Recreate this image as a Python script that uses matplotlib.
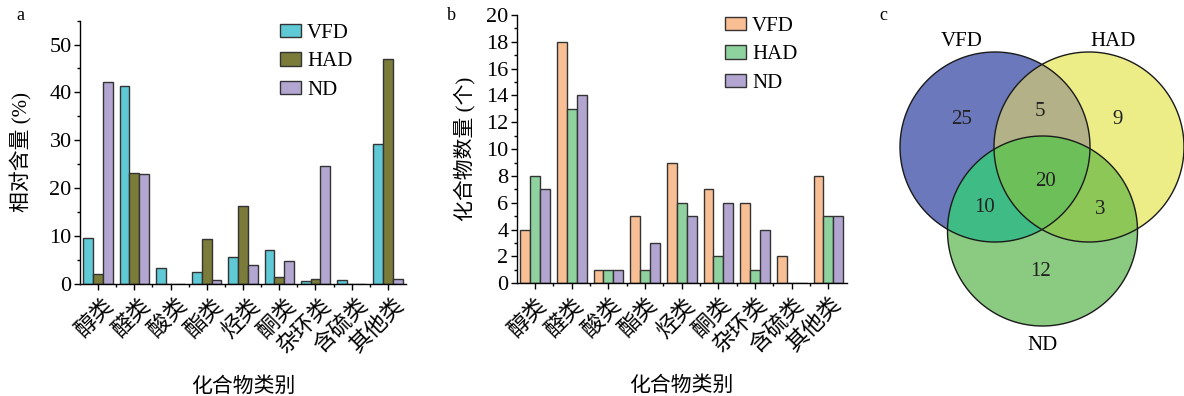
import numpy as np
import matplotlib
matplotlib.use("Agg")
import matplotlib.pyplot as plt
import matplotlib.transforms as mtransforms
from matplotlib.patches import Polygon
from matplotlib.ticker import MultipleLocator, FixedLocator

plt.rcParams['font.family'] = ['Liberation Serif', 'Noto Sans CJK SC']
plt.rcParams['axes.unicode_minus'] = False

# ---------------- data ----------------
categories = ['醇类', '醛类', '酸类', '酯类', '烃类', '酮类', '杂环类', '含硫类', '其他类']
series = ['VFD', 'HAD', 'ND']

rel_vfd = [9.7, 41.3, 3.4, 2.5, 5.6, 7.1, 0.7, 0.9, 29.3]
rel_had = [2.0, 23.2, 0.1, 9.4, 16.2, 1.5, 1.0, 0.0, 47.0]
rel_nd = [42.1, 23.0, 0.1, 0.8, 3.9, 4.9, 24.6, 0.0, 1.1]

cnt_vfd = [4, 18, 1, 5, 9, 7, 6, 2, 8]
cnt_had = [8, 13, 1, 1, 6, 2, 1, 0, 5]
cnt_nd = [7, 14, 1, 3, 5, 6, 4, 0, 5]

venn_labels = ['VFD', 'HAD', 'ND']
venn_only = [25, 9, 12]          # VFD only, HAD only, ND only
venn_pairs = [5, 10, 3]          # VFD&HAD, VFD&ND, HAD&ND
venn_all = 20

colors_a = ['#5fc9d6', '#7b7b3a', '#b3a7d1']
colors_b = ['#f9bf94', '#8fd29f', '#b2a6d1']

W, H = 1184, 396
fig = plt.figure(figsize=(W / 100, H / 100), dpi=100)


def ax_px(l, t, r, b):
    return fig.add_axes([l / W, 1 - b / H, (r - l) / W, (b - t) / H])


FS = 15
TFS = 16
x = np.arange(len(categories))
bw = 0.27


def style_bar_axes(ax, ymax, major, minor, dx):
    ax.set_xlim(-0.5, len(categories) - 0.5)
    ax.set_ylim(0, ymax)
    for s in ['top', 'right']:
        ax.spines[s].set_visible(False)
    for s in ['left', 'bottom']:
        ax.spines[s].set_linewidth(1.0)
    ax.yaxis.set_major_locator(MultipleLocator(major))
    ax.yaxis.set_minor_locator(MultipleLocator(minor))
    ax.xaxis.set_major_locator(FixedLocator(x))
    ax.xaxis.set_minor_locator(FixedLocator(x[:-1] + 0.5))
    ax.tick_params(axis='both', which='major', direction='out', length=4, width=1, labelsize=TFS, pad=2)
    ax.tick_params(axis='x', which='major', pad=4)
    ax.tick_params(axis='both', which='minor', direction='out', length=2.5, width=1)
    ax.set_xticks(x)
    ax.set_xticklabels(categories, rotation=45, ha='right', va='top', rotation_mode='anchor', fontsize=TFS)
    off = mtransforms.ScaledTranslation(dx / 100, 0, fig.dpi_scale_trans)
    for lab in ax.get_xticklabels():
        lab.set_transform(lab.get_transform() + off)
    ax.set_xlabel('化合物类别', fontsize=FS, labelpad=14)


# ---------------- panel a ----------------
axa = ax_px(80, 20.6, 406, 284)
for i, (vals, c) in enumerate(zip([rel_vfd, rel_had, rel_nd], colors_a)):
    axa.bar(x + (i - 1) * bw, vals, bw, color=c, edgecolor='#333333', linewidth=1.0, label=series[i])
style_bar_axes(axa, 55, 10, 5, 6)
axa.set_ylabel('相对含量 (%)', fontsize=FS, labelpad=12)
axa.legend(loc='upper left', bbox_to_anchor=(280 / W, 1 - 24 / H), bbox_transform=fig.transFigure,
           frameon=False, fontsize=FS, handlelength=1.0, handleheight=0.6, handletextpad=0.3,
           labelspacing=0.45, borderpad=0, borderaxespad=0)
fig.text(20 / W, 1 - 16 / H, 'a', fontsize=13, ha='center', va='center')

# ---------------- panel b ----------------
axb = ax_px(516.7, 15, 846.7, 283.3)
for i, (vals, c) in enumerate(zip([cnt_vfd, cnt_had, cnt_nd], colors_b)):
    axb.bar(x + (i - 1) * bw, vals, bw, color=c, edgecolor='#333333', linewidth=1.0, label=series[i])
style_bar_axes(axb, 20, 2, 1, 2)
axb.set_ylabel('化合物数量 (个)', fontsize=FS, labelpad=8)
axb.legend(loc='upper left', bbox_to_anchor=(725 / W, 1 - 17 / H), bbox_transform=fig.transFigure,
           frameon=False, fontsize=FS, handlelength=1.0, handleheight=0.6, handletextpad=0.3,
           labelspacing=0.45, borderpad=0, borderaxespad=0)
fig.text(451 / W, 1 - 16 / H, 'b', fontsize=13, ha='center', va='center')

# ---------------- panel c (Venn) ----------------
axc = ax_px(860, 0, W, H)
axc.set_xlim(860, W)
axc.set_ylim(H, 0)
axc.axis('off')
fig.text(883 / W, 1 - 16 / H, 'c', fontsize=13, ha='center', va='center')

R = 95.0
centers = [(995.0, 147.0), (1089.0, 147.0), (1042.5, 231.0)]
t = np.linspace(0, 2 * np.pi, 721)[:-1]


def circle_poly(c):
    return np.column_stack([c[0] + R * np.cos(t), c[1] + R * np.sin(t)])


def clip(subject, clipper):
    # Sutherland-Hodgman polygon clipping against a convex polygon
    out = list(map(tuple, subject))
    n = len(clipper)
    for i in range(n):
        a = clipper[i]
        b = clipper[(i + 1) % n]
        inp = out
        out = []
        if not inp:
            break

        def inside(p):
            return (b[0] - a[0]) * (p[1] - a[1]) - (b[1] - a[1]) * (p[0] - a[0]) >= 0

        def inter(p, q):
            x1, y1 = p; x2, y2 = q; x3, y3 = a; x4, y4 = b
            den = (x1 - x2) * (y3 - y4) - (y1 - y2) * (x3 - x4)
            tt = ((x1 - x3) * (y3 - y4) - (y1 - y3) * (x3 - x4)) / den
            return (x1 + tt * (x2 - x1), y1 + tt * (y2 - y1))

        s = inp[-1]
        for e in inp:
            if inside(e):
                if not inside(s):
                    out.append(inter(s, e))
                out.append(e)
            elif inside(s):
                out.append(inter(s, e))
            s = e
    return np.array(out)


polys = [circle_poly(c) for c in centers]
circ_cols = ['#6b78bb', '#eded88', '#8aca81']
pair_cols = {(0, 1): '#b2b187', (0, 2): '#3fbc85', (1, 2): '#8cc758'}
all_col = '#6cbf59'

for p, c in zip(polys, circ_cols):
    axc.add_patch(Polygon(p, closed=True, facecolor=c, edgecolor='none'))
for (i, j), c in pair_cols.items():
    axc.add_patch(Polygon(clip(polys[i], polys[j]), closed=True, facecolor=c, edgecolor='none'))
tri = clip(clip(polys[0], polys[1]), polys[2])
axc.add_patch(Polygon(tri, closed=True, facecolor=all_col, edgecolor='none'))
for p in polys:
    axc.add_patch(Polygon(p, closed=True, facecolor='none', edgecolor='#1a1a1a', linewidth=1.0))

# set labels
for lab, pos in zip(venn_labels, [(962, 41), (1113, 41), (1043, 346)]):
    axc.text(pos[0], pos[1], lab, fontsize=FS, ha='center', va='center')
# region numbers
only_pos = [(962, 120), (1118, 119), (1041, 272)]
pair_pos = [(1040, 111), (985, 207), (1100, 209)]
for v, pos in zip(venn_only, only_pos):
    axc.text(pos[0], pos[1], str(v), fontsize=FS, ha='center', va='center', color='#222222')
for v, pos in zip(venn_pairs, pair_pos):
    axc.text(pos[0], pos[1], str(v), fontsize=FS, ha='center', va='center', color='#222222')
axc.text(1046, 181, str(venn_all), fontsize=FS, ha='center', va='center', color='#222222')

fig.savefig('out.png', dpi=100)
